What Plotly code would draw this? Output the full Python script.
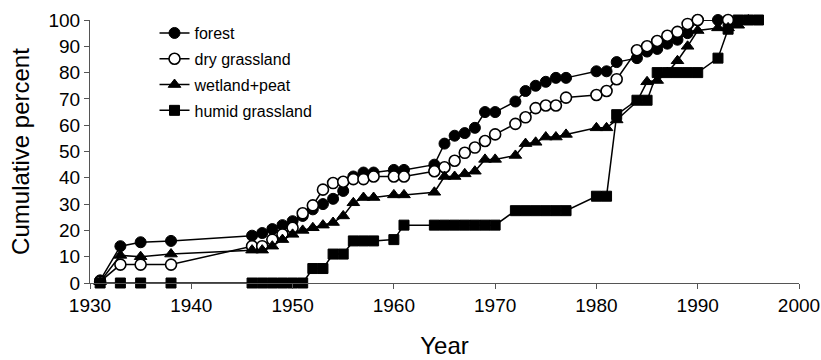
import plotly.graph_objects as go

forest_years = [1931, 1933, 1935, 1938, 1946, 1947, 1948, 1949, 1950, 1951, 1952, 1953, 1954, 1955,
                1956, 1957, 1958, 1960, 1961, 1964, 1965, 1966, 1967, 1968, 1969, 1970, 1972, 1973,
                1974, 1975, 1976, 1977, 1980, 1981, 1982, 1984, 1985, 1986, 1987, 1988, 1989, 1990, 1992]
forest_vals = [1, 14, 15.5, 16, 18, 19, 20.5, 22, 23.5, 25.5, 28, 30, 32, 35,
               40.5, 42, 42, 43, 43, 45, 53, 56, 57, 59, 65, 65, 69, 73,
               75, 76.5, 78, 78, 80.5, 80.5, 84, 85.5, 88, 89, 91, 92.5, 95, 100, 100]

dry_years = [1931, 1933, 1935, 1938, 1946, 1947, 1948, 1949, 1950, 1951, 1952, 1953, 1954, 1955,
             1956, 1957, 1958, 1960, 1961, 1964, 1965, 1966, 1967, 1968, 1969, 1970, 1972, 1973,
             1974, 1975, 1976, 1977, 1980, 1981, 1982, 1984, 1985, 1986, 1987, 1988, 1989, 1990, 1993]
dry_vals = [0.5, 7, 7, 7, 14, 14, 16.5, 18.5, 21, 26.5, 29.5, 35.5, 38, 38.5,
            39.5, 39.5, 40.5, 40.5, 40.5, 42.5, 44, 46.5, 49.5, 51.5, 54, 56.5, 60.5, 63,
            66.5, 67.5, 67.5, 70.5, 71.5, 73, 77.5, 88.5, 90, 92, 94, 95.5, 98.5, 100, 100]

wet_years = [1931, 1933, 1935, 1938, 1946, 1947, 1948, 1949, 1950, 1951, 1952, 1953, 1954, 1955,
             1956, 1957, 1958, 1960, 1961, 1964, 1965, 1966, 1967, 1968, 1969, 1970, 1972, 1973,
             1974, 1975, 1976, 1977, 1980, 1981, 1982, 1984, 1985, 1986, 1987, 1988, 1989, 1990,
             1992, 1993, 1994, 1995]
wet_vals = [0.5, 10.5, 10, 11, 12.5, 12.5, 14, 16.5, 18.5, 20, 21, 22, 23, 25.5,
            30.5, 32.5, 32.5, 33.5, 33.5, 34.5, 40.5, 40.5, 41.5, 42.5, 47, 47, 48.5, 53,
            53.5, 55.5, 55.5, 56.5, 59, 59, 62, 69, 76.5, 77, 80, 84.5, 90, 96,
            97, 97, 98, 100]

humid_years = [1931, 1933, 1935, 1938, 1946, 1947, 1948, 1949, 1950, 1951, 1952, 1953, 1954, 1955,
               1956, 1957, 1958, 1960, 1961, 1964, 1965, 1966, 1967, 1968, 1969, 1970, 1972, 1973,
               1974, 1975, 1976, 1977, 1980, 1981, 1982, 1984, 1985, 1986, 1987, 1988, 1989, 1990,
               1992, 1993, 1994, 1995, 1996]
humid_vals = [0, 0, 0, 0, 0, 0, 0, 0, 0, 0, 5.5, 5.5, 11, 11,
              16, 16, 16, 16.5, 22, 22, 22, 22, 22, 22, 22, 22, 27.5, 27.5,
              27.5, 27.5, 27.5, 27.5, 33, 33, 64, 69.5, 69.5, 80, 80, 80, 80, 80,
              85.5, 96.5, 100, 100, 100]

x_ticks = [1930, 1940, 1950, 1960, 1970, 1980, 1990, 2000]
y_ticks = [0, 10, 20, 30, 40, 50, 60, 70, 80, 90, 100]

FONT = "Arial, 'Liberation Sans', sans-serif"

fig = go.Figure()
series = [
    ("forest", forest_years, forest_vals, dict(symbol="circle", size=11, color="black",
                                               line=dict(color="black", width=1))),
    ("dry grassland", dry_years, dry_vals, dict(symbol="circle", size=11, color="white",
                                                line=dict(color="black", width=1.6))),
    ("wetland+peat", wet_years, wet_vals, dict(symbol="triangle-up", size=11, color="black",
                                               line=dict(color="black", width=1))),
    ("humid grassland", humid_years, humid_vals, dict(symbol="square", size=10, color="black",
                                                      line=dict(color="black", width=1))),
]
for name, xs, ys, mk in series:
    fig.add_trace(go.Scatter(x=xs, y=ys, mode="lines+markers", name=name, legendgroup=name,
                             line=dict(color="black", width=1.5), marker=mk,
                             cliponaxis=False))

fig.update_layout(
    width=821, height=360,
    margin=dict(l=90, r=22, t=20, b=77),
    paper_bgcolor="white", plot_bgcolor="white",
    font=dict(family=FONT, color="black"),
    showlegend=True,
    legend=dict(x=0.091, y=1.015, xanchor="left", yanchor="top",
                bgcolor="rgba(0,0,0,0)", font=dict(size=16, family=FONT),
                tracegroupgap=2, itemwidth=30),
    xaxis=dict(range=[1930, 2000], tickvals=x_ticks, ticktext=[str(t) for t in x_ticks],
               showgrid=False, zeroline=False, showline=True, linecolor="#555", linewidth=1,
               ticks="outside", ticklen=5, tickcolor="#555", tickfont=dict(size=19),
               automargin=False,
               title=dict(text="Year", font=dict(size=24), standoff=22)),
    yaxis=dict(range=[0, 100], tickvals=y_ticks, ticktext=[str(t) for t in y_ticks],
               showgrid=False, zeroline=False, showline=True, linecolor="#555", linewidth=1,
               ticks="outside", ticklen=5, tickcolor="#555", tickfont=dict(size=19),
               automargin=False,
               title=dict(text="Cumulative percent", font=dict(size=24), standoff=12)),
)

fig.write_html("out.html")
